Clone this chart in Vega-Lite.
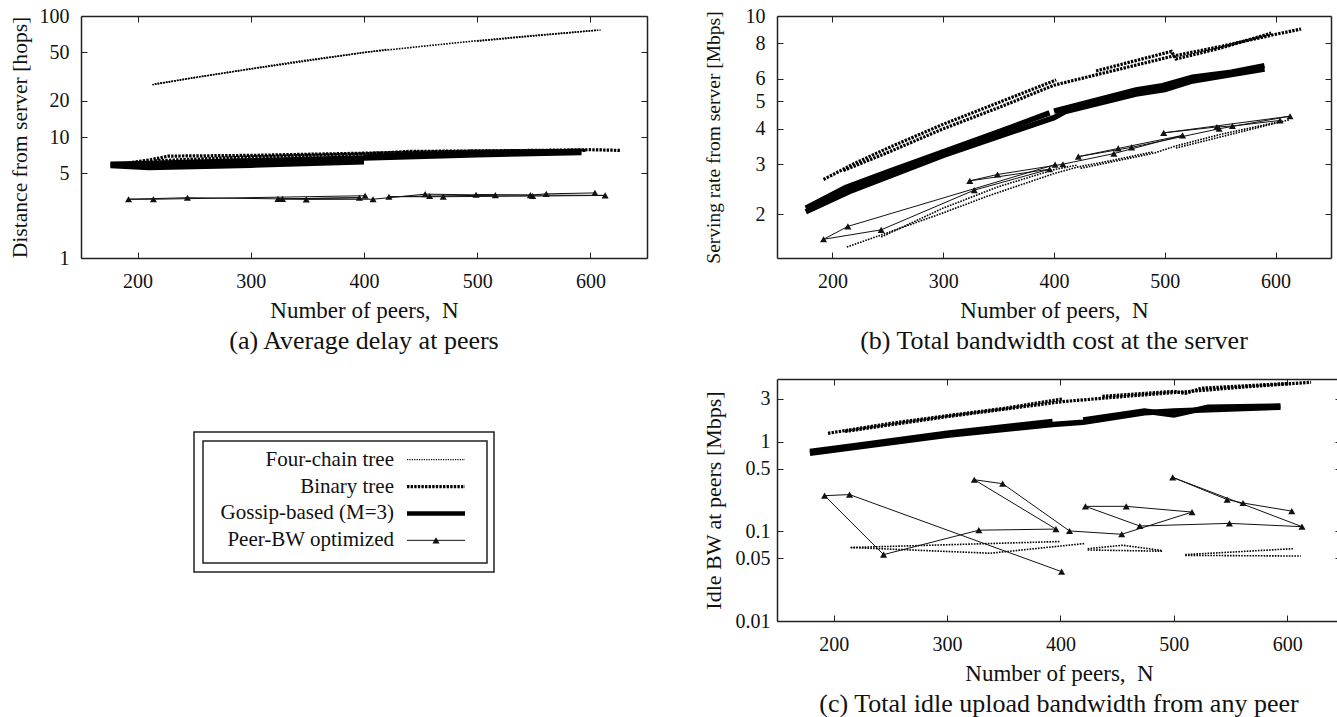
{
"$schema": "https://vega.github.io/schema/vega-lite/v6.json",
"padding": {"left": 8, "top": 6, "right": 0, "bottom": 0},
"autosize": {"type": "pad"},
"background": "white",
"config": {
 "font": "Liberation Serif",
 "view": {"stroke": null},
 "axis": {"labelFont": "Liberation Serif", "titleFont": "Liberation Serif", "labelFontSize": 20, "titleFontSize": 23, "labelColor": "#111", "titleColor": "#111", "titleFontWeight": "normal", "domainColor": "#222", "domainWidth": 1.5, "tickColor": "#222", "tickSize": -6, "tickWidth": 1, "grid": false, "labelFlush": false, "labelOverlap": false},
 "title": {"font": "Liberation Serif", "fontWeight": "normal", "color": "#111", "fontSize": 26},
 "line": {"strokeCap": "butt"}
},
"datasets": {
 "a": [
  {"s":"F","r":1,"N":213,"v":27.0},{"s":"F","r":1,"N":250,"v":31.0},{"s":"F","r":1,"N":300,"v":36.5},{"s":"F","r":1,"N":338,"v":41.0},{"s":"F","r":1,"N":400,"v":50.0},{"s":"F","r":1,"N":450,"v":56.0},{"s":"F","r":1,"N":500,"v":62.5},{"s":"F","r":1,"N":550,"v":69.0},{"s":"F","r":1,"N":609,"v":76.6},
  {"s":"F","r":2,"N":215,"v":27.4},{"s":"F","r":2,"N":338,"v":41.7},{"s":"F","r":2,"N":421,"v":53.0},
  {"s":"F","r":3,"N":500,"v":62.0},{"s":"F","r":3,"N":605,"v":76.2},
  {"s":"B","r":1,"N":192,"v":6.1},{"s":"B","r":1,"N":212,"v":6.5},{"s":"B","r":1,"N":227,"v":6.95},{"s":"B","r":1,"N":300,"v":7.05},{"s":"B","r":1,"N":400,"v":7.35},{"s":"B","r":1,"N":500,"v":7.65},{"s":"B","r":1,"N":600,"v":7.85},{"s":"B","r":1,"N":627,"v":7.75},
  {"s":"B","r":2,"N":215,"v":6.35},{"s":"B","r":2,"N":300,"v":6.85},{"s":"B","r":2,"N":400,"v":7.25},{"s":"B","r":2,"N":440,"v":7.6},{"s":"B","r":2,"N":520,"v":7.7},{"s":"B","r":2,"N":596,"v":7.75},
  {"s":"G","r":1,"N":176,"v":5.95},{"s":"G","r":1,"N":210,"v":6.05},{"s":"G","r":1,"N":300,"v":6.35},{"s":"G","r":1,"N":400,"v":6.7},{"s":"G","r":1,"N":500,"v":7.15},{"s":"G","r":1,"N":592,"v":7.45},
  {"s":"G","r":2,"N":176,"v":5.8},{"s":"G","r":2,"N":210,"v":5.6},{"s":"G","r":2,"N":300,"v":5.85},{"s":"G","r":2,"N":400,"v":6.25},
  {"s":"G","r":3,"N":400,"v":6.8},{"s":"G","r":3,"N":440,"v":7.05},{"s":"G","r":3,"N":500,"v":7.3},{"s":"G","r":3,"N":592,"v":7.6},
  {"s":"P","r":1,"N":401,"v":3.27},{"s":"P","r":1,"N":214,"v":3.06},{"s":"P","r":1,"N":192,"v":3.06},{"s":"P","r":1,"N":244,"v":3.15},{"s":"P","r":1,"N":328,"v":3.08},{"s":"P","r":1,"N":396,"v":3.15},{"s":"P","r":1,"N":324,"v":3.08},{"s":"P","r":1,"N":349,"v":3.05},{"s":"P","r":1,"N":408,"v":3.06},{"s":"P","r":1,"N":454,"v":3.37},{"s":"P","r":1,"N":516,"v":3.31},{"s":"P","r":1,"N":458,"v":3.25},{"s":"P","r":1,"N":422,"v":3.21},{"s":"P","r":1,"N":470,"v":3.21},{"s":"P","r":1,"N":549,"v":3.25},{"s":"P","r":1,"N":613,"v":3.29},{"s":"P","r":1,"N":499,"v":3.33},{"s":"P","r":1,"N":547,"v":3.31},{"s":"P","r":1,"N":561,"v":3.39},{"s":"P","r":1,"N":604,"v":3.45}
 ],
 "b": [
  {"s":"F","r":1,"N":213,"v":1.53},{"s":"F","r":1,"N":250,"v":1.72},{"s":"F","r":1,"N":300,"v":2.02},{"s":"F","r":1,"N":338,"v":2.3},{"s":"F","r":1,"N":400,"v":2.78},{"s":"F","r":1,"N":421,"v":2.93},{"s":"F","r":1,"N":450,"v":3.08},{"s":"F","r":1,"N":490,"v":3.32},
  {"s":"F","r":2,"N":244,"v":1.66},{"s":"F","r":2,"N":300,"v":2.1},{"s":"F","r":2,"N":350,"v":2.5},{"s":"F","r":2,"N":400,"v":2.87},{"s":"F","r":2,"N":421,"v":2.98},
  {"s":"F","r":3,"N":424,"v":2.9},{"s":"F","r":3,"N":490,"v":3.28},{"s":"F","r":3,"N":510,"v":3.48},{"s":"F","r":3,"N":550,"v":3.82},{"s":"F","r":3,"N":605,"v":4.25},
  {"s":"F","r":4,"N":510,"v":3.42},{"s":"F","r":4,"N":612,"v":4.3},
  {"s":"B","r":1,"N":192,"v":2.65},{"s":"B","r":1,"N":220,"v":3.02},{"s":"B","r":1,"N":250,"v":3.42},{"s":"B","r":1,"N":300,"v":4.15},{"s":"B","r":1,"N":350,"v":4.95},{"s":"B","r":1,"N":402,"v":5.95},
  {"s":"B","r":2,"N":210,"v":2.85},{"s":"B","r":2,"N":250,"v":3.3},{"s":"B","r":2,"N":300,"v":4.0},{"s":"B","r":2,"N":350,"v":4.75},{"s":"B","r":2,"N":400,"v":5.7},{"s":"B","r":2,"N":438,"v":6.2},{"s":"B","r":2,"N":470,"v":6.65},{"s":"B","r":2,"N":506,"v":7.2},{"s":"B","r":2,"N":550,"v":7.8},{"s":"B","r":2,"N":596,"v":8.55},{"s":"B","r":2,"N":623,"v":9.0},
  {"s":"B","r":3,"N":438,"v":6.4},{"s":"B","r":3,"N":470,"v":6.9},{"s":"B","r":3,"N":506,"v":7.5},{"s":"B","r":3,"N":510,"v":7.05},{"s":"B","r":3,"N":550,"v":7.7},{"s":"B","r":3,"N":596,"v":8.7},
  {"s":"G","r":1,"N":176,"v":2.1},{"s":"G","r":1,"N":212,"v":2.48},{"s":"G","r":1,"N":250,"v":2.82},{"s":"G","r":1,"N":300,"v":3.32},{"s":"G","r":1,"N":350,"v":3.9},{"s":"G","r":1,"N":396,"v":4.55},
  {"s":"G","r":2,"N":176,"v":2.04},{"s":"G","r":2,"N":215,"v":2.4},{"s":"G","r":2,"N":300,"v":3.22},{"s":"G","r":2,"N":400,"v":4.38},{"s":"G","r":2,"N":410,"v":4.6},{"s":"G","r":2,"N":474,"v":5.3},{"s":"G","r":2,"N":500,"v":5.5},{"s":"G","r":2,"N":525,"v":5.9},{"s":"G","r":2,"N":590,"v":6.5},
  {"s":"G","r":3,"N":400,"v":4.62},{"s":"G","r":3,"N":474,"v":5.48},{"s":"G","r":3,"N":498,"v":5.68},{"s":"G","r":3,"N":525,"v":6.08},{"s":"G","r":3,"N":560,"v":6.33},{"s":"G","r":3,"N":590,"v":6.68},
  {"s":"P","r":1,"N":401,"v":2.99},{"s":"P","r":1,"N":214,"v":1.81},{"s":"P","r":1,"N":192,"v":1.63},{"s":"P","r":1,"N":244,"v":1.76},{"s":"P","r":1,"N":328,"v":2.43},{"s":"P","r":1,"N":396,"v":2.88},{"s":"P","r":1,"N":324,"v":2.62},{"s":"P","r":1,"N":349,"v":2.76},{"s":"P","r":1,"N":408,"v":3.0},{"s":"P","r":1,"N":454,"v":3.27},{"s":"P","r":1,"N":516,"v":3.79},{"s":"P","r":1,"N":458,"v":3.41},{"s":"P","r":1,"N":422,"v":3.19},{"s":"P","r":1,"N":470,"v":3.44},{"s":"P","r":1,"N":549,"v":4.0},{"s":"P","r":1,"N":613,"v":4.43},{"s":"P","r":1,"N":499,"v":3.87},{"s":"P","r":1,"N":547,"v":4.06},{"s":"P","r":1,"N":561,"v":4.09},{"s":"P","r":1,"N":604,"v":4.28}
 ],
 "c": [
  {"s":"F","r":1,"N":215,"v":0.066},{"s":"F","r":1,"N":400,"v":0.077},
  {"s":"F","r":2,"N":215,"v":0.066},{"s":"F","r":2,"N":338,"v":0.057},{"s":"F","r":2,"N":421,"v":0.073},
  {"s":"F","r":3,"N":424,"v":0.062},{"s":"F","r":3,"N":490,"v":0.060},
  {"s":"F","r":4,"N":424,"v":0.064},{"s":"F","r":4,"N":455,"v":0.070},{"s":"F","r":4,"N":490,"v":0.061},
  {"s":"F","r":5,"N":510,"v":0.055},{"s":"F","r":5,"N":605,"v":0.064},
  {"s":"F","r":6,"N":510,"v":0.054},{"s":"F","r":6,"N":612,"v":0.053},
  {"s":"B","r":1,"N":195,"v":1.24},{"s":"B","r":1,"N":250,"v":1.6},{"s":"B","r":1,"N":300,"v":1.95},{"s":"B","r":1,"N":350,"v":2.35},{"s":"B","r":1,"N":402,"v":3.0},
  {"s":"B","r":2,"N":210,"v":1.3},{"s":"B","r":2,"N":300,"v":1.9},{"s":"B","r":2,"N":402,"v":2.8},{"s":"B","r":2,"N":437,"v":3.05},{"s":"B","r":2,"N":470,"v":3.3},{"s":"B","r":2,"N":510,"v":3.6},{"s":"B","r":2,"N":560,"v":4.05},{"s":"B","r":2,"N":621,"v":4.6},
  {"s":"B","r":3,"N":437,"v":3.2},{"s":"B","r":3,"N":500,"v":3.65},{"s":"B","r":3,"N":510,"v":3.45},{"s":"B","r":3,"N":524,"v":3.95},{"s":"B","r":3,"N":600,"v":4.45},
  {"s":"G","r":1,"N":179,"v":0.775},{"s":"G","r":1,"N":223,"v":0.92},{"s":"G","r":1,"N":300,"v":1.24},{"s":"G","r":1,"N":393,"v":1.68},
  {"s":"G","r":2,"N":179,"v":0.74},{"s":"G","r":2,"N":300,"v":1.18},{"s":"G","r":2,"N":393,"v":1.55},{"s":"G","r":2,"N":420,"v":1.65},{"s":"G","r":2,"N":474,"v":2.1},{"s":"G","r":2,"N":500,"v":2.2},{"s":"G","r":2,"N":594,"v":2.42},
  {"s":"G","r":3,"N":420,"v":1.75},{"s":"G","r":3,"N":474,"v":2.2},{"s":"G","r":3,"N":500,"v":1.98},{"s":"G","r":3,"N":530,"v":2.42},{"s":"G","r":3,"N":594,"v":2.5},
  {"s":"P","r":1,"N":401,"v":0.0355},{"s":"P","r":1,"N":214,"v":0.257},{"s":"P","r":1,"N":192,"v":0.25},{"s":"P","r":1,"N":244,"v":0.055},{"s":"P","r":1,"N":328,"v":0.103},{"s":"P","r":1,"N":396,"v":0.106},{"s":"P","r":1,"N":324,"v":0.376},{"s":"P","r":1,"N":349,"v":0.34},{"s":"P","r":1,"N":408,"v":0.101},{"s":"P","r":1,"N":454,"v":0.0927},{"s":"P","r":1,"N":516,"v":0.164},{"s":"P","r":1,"N":458,"v":0.19},{"s":"P","r":1,"N":422,"v":0.19},{"s":"P","r":1,"N":470,"v":0.1146},{"s":"P","r":1,"N":549,"v":0.1227},{"s":"P","r":1,"N":613,"v":0.1127},{"s":"P","r":1,"N":499,"v":0.40},{"s":"P","r":1,"N":547,"v":0.226},{"s":"P","r":1,"N":561,"v":0.207},{"s":"P","r":1,"N":604,"v":0.168}
 ],
 "legend": [
  {"s":"F","label":"Four-chain tree"},
  {"s":"B","label":"Binary tree"},
  {"s":"G","label":"Gossip-based (M=3)"},
  {"s":"P","label":"Peer-BW optimized"}
 ]
},
"columns": 2,
"spacing": {"row": 121, "column": 130},
"bounds": "flush",
"align": "none",
"concat": [
 {
  "width": 566, "height": 242,
  "data": {"name": "a"},
  "title": {"text": "(a) Average delay at peers", "orient": "bottom", "offset": 6},
  "layer": [
   {"transform": [{"filter": "datum.s === 'F'"}],
    "mark": {"type": "line", "color": "#000", "strokeWidth": 1.6, "strokeDash": [1.6, 1.2]},
    "encoding": {
     "x": {"field": "N", "type": "quantitative", "scale": {"domain": [150, 650], "nice": false, "zero": false}, "axis": {"orient": "bottom", "values": [200, 300, 400, 500, 600], "title": "Number of peers,\u00a0 N", "labelPadding": 19, "titlePadding": 8}},
     "y": {"field": "v", "type": "quantitative", "scale": {"type": "log", "domain": [1, 100], "nice": false}, "axis": {"orient": "left", "values": [1, 5, 10, 20, 50, 100], "format": "~g", "title": "Distance from server [hops]", "titleFontSize": 21.6, "labelPadding": 18, "titlePadding": 8}},
     "detail": {"field": "r"}, "order": {"value": null}}},
   {"transform": [{"filter": "datum.s === 'B'"}],
    "mark": {"type": "line", "color": "#000", "strokeWidth": 3.2, "strokeDash": [2.4, 1.2]},
    "encoding": {
     "x": {"field": "N", "type": "quantitative", "scale": {"domain": [150, 650], "nice": false, "zero": false}, "axis": null},
     "y": {"field": "v", "type": "quantitative", "scale": {"type": "log", "domain": [1, 100], "nice": false}, "axis": null},
     "detail": {"field": "r"}, "order": {"value": null}}},
   {"transform": [{"filter": "datum.s === 'G'"}],
    "mark": {"type": "line", "color": "#000", "strokeWidth": 5.5},
    "encoding": {
     "x": {"field": "N", "type": "quantitative", "scale": {"domain": [150, 650], "nice": false, "zero": false}, "axis": null},
     "y": {"field": "v", "type": "quantitative", "scale": {"type": "log", "domain": [1, 100], "nice": false}, "axis": null},
     "detail": {"field": "r"}, "order": {"value": null}}},
   {"transform": [{"filter": "datum.s === 'P'"}],
    "mark": {"type": "line", "color": "#111", "strokeWidth": 1},
    "encoding": {
     "x": {"field": "N", "type": "quantitative", "scale": {"domain": [150, 650], "nice": false, "zero": false}, "axis": null},
     "y": {"field": "v", "type": "quantitative", "scale": {"type": "log", "domain": [1, 100], "nice": false}, "axis": null},
     "detail": {"field": "r"}, "order": {"value": null}}},
   {"transform": [{"filter": "datum.s === 'P'"}],
    "mark": {"type": "point", "shape": "triangle-up", "filled": true, "size": 50, "color": "#111", "opacity": 1},
    "encoding": {
     "x": {"field": "N", "type": "quantitative", "scale": {"domain": [150, 650], "nice": false, "zero": false}, "axis": {"orient": "top", "values": [200, 300, 400, 500, 600], "labels": false, "title": null}},
     "y": {"field": "v", "type": "quantitative", "scale": {"type": "log", "domain": [1, 100], "nice": false}, "axis": {"orient": "right", "values": [1, 5, 10, 20, 50, 100], "labels": false, "title": null}}}}
  ]
 },
 {
  "width": 554, "height": 242,
  "data": {"name": "b"},
  "title": {"text": "(b) Total bandwidth cost at the server", "orient": "bottom", "offset": 6},
  "layer": [
   {"transform": [{"filter": "datum.s === 'F'"}],
    "mark": {"type": "line", "color": "#000", "strokeWidth": 1.6, "strokeDash": [1.6, 1.2]},
    "encoding": {
     "x": {"field": "N", "type": "quantitative", "scale": {"domain": [150, 650], "nice": false, "zero": false}, "axis": {"orient": "bottom", "values": [200, 300, 400, 500, 600], "title": "Number of peers,\u00a0 N", "labelPadding": 19, "titlePadding": 8}},
     "y": {"field": "v", "type": "quantitative", "scale": {"type": "log", "domain": [1.4, 10], "nice": false}, "axis": {"orient": "left", "values": [2, 3, 4, 5, 6, 8, 10], "format": "~g", "title": "Serving rate from server [Mbps]", "titleFontSize": 19.5, "labelPadding": 18, "titlePadding": 22}},
     "detail": {"field": "r"}, "order": {"value": null}}},
   {"transform": [{"filter": "datum.s === 'B'"}],
    "mark": {"type": "line", "color": "#000", "strokeWidth": 3.2, "strokeDash": [2.4, 1.2]},
    "encoding": {
     "x": {"field": "N", "type": "quantitative", "scale": {"domain": [150, 650], "nice": false, "zero": false}, "axis": null},
     "y": {"field": "v", "type": "quantitative", "scale": {"type": "log", "domain": [1.4, 10], "nice": false}, "axis": null},
     "detail": {"field": "r"}, "order": {"value": null}}},
   {"transform": [{"filter": "datum.s === 'G'"}],
    "mark": {"type": "line", "color": "#000", "strokeWidth": 5.5},
    "encoding": {
     "x": {"field": "N", "type": "quantitative", "scale": {"domain": [150, 650], "nice": false, "zero": false}, "axis": null},
     "y": {"field": "v", "type": "quantitative", "scale": {"type": "log", "domain": [1.4, 10], "nice": false}, "axis": null},
     "detail": {"field": "r"}, "order": {"value": null}}},
   {"transform": [{"filter": "datum.s === 'P'"}],
    "mark": {"type": "line", "color": "#111", "strokeWidth": 1},
    "encoding": {
     "x": {"field": "N", "type": "quantitative", "scale": {"domain": [150, 650], "nice": false, "zero": false}, "axis": null},
     "y": {"field": "v", "type": "quantitative", "scale": {"type": "log", "domain": [1.4, 10], "nice": false}, "axis": null},
     "detail": {"field": "r"}, "order": {"value": null}}},
   {"transform": [{"filter": "datum.s === 'P'"}],
    "mark": {"type": "point", "shape": "triangle-up", "filled": true, "size": 50, "color": "#111", "opacity": 1},
    "encoding": {
     "x": {"field": "N", "type": "quantitative", "scale": {"domain": [150, 650], "nice": false, "zero": false}, "axis": {"orient": "top", "values": [200, 300, 400, 500, 600], "labels": false, "title": null}},
     "y": {"field": "v", "type": "quantitative", "scale": {"type": "log", "domain": [1.4, 10], "nice": false}, "axis": {"orient": "right", "values": [2, 3, 4, 5, 6, 8, 10], "labels": false, "title": null}}}}
  ]
 },
 {
  "width": 561, "height": 242,
  "data": {"name": "legend"},
  "layer": [
   {"transform": [{"filter": "datum.s === 'F'"}],
    "mark": {"type": "rect", "filled": false, "color": "#222", "strokeWidth": 1.5},
    "encoding": {
     "x": {"datum": 113, "type": "quantitative", "scale": {"domain": [0, 561], "nice": false, "zero": false}, "axis": null},
     "x2": {"datum": 413},
     "y": {"datum": 53, "type": "quantitative", "scale": {"domain": [0, 242], "nice": false, "zero": false, "reverse": true}, "axis": null},
     "y2": {"datum": 193}}},
   {"transform": [{"filter": "datum.s === 'F'"}],
    "mark": {"type": "rect", "filled": false, "color": "#222", "strokeWidth": 1.5},
    "encoding": {
     "x": {"datum": 122, "type": "quantitative", "scale": {"domain": [0, 561], "nice": false, "zero": false}, "axis": null},
     "x2": {"datum": 406},
     "y": {"datum": 62, "type": "quantitative", "scale": {"domain": [0, 242], "nice": false, "zero": false, "reverse": true}, "axis": null},
     "y2": {"datum": 184}}},
   {"mark": {"type": "text", "align": "right", "baseline": "middle", "font": "Liberation Serif", "fontSize": 21, "color": "#111"},
    "encoding": {
     "x": {"datum": 313, "type": "quantitative", "scale": {"domain": [0, 561], "nice": false, "zero": false}, "axis": null},
     "y": {"field": "s", "type": "ordinal", "scale": {"type": "point", "domain": ["d1", "d2", "d3", "F", "B", "G", "P", "d4", "d5", "d6"], "padding": 0}, "axis": null},
     "text": {"field": "label"}}},
   {"transform": [{"filter": "datum.s === 'F'"}],
    "mark": {"type": "rule", "color": "#000", "strokeWidth": 1.2, "strokeDash": [1.2, 1.2]},
    "encoding": {
     "x": {"datum": 326, "type": "quantitative", "scale": {"domain": [0, 561], "nice": false, "zero": false}, "axis": null},
     "x2": {"datum": 384},
     "y": {"field": "s", "type": "ordinal", "scale": {"type": "point", "domain": ["d1", "d2", "d3", "F", "B", "G", "P", "d4", "d5", "d6"], "padding": 0}, "axis": null}}},
   {"transform": [{"filter": "datum.s === 'B'"}],
    "mark": {"type": "rule", "color": "#000", "strokeWidth": 3.2, "strokeDash": [2.4, 1.2]},
    "encoding": {
     "x": {"datum": 326, "type": "quantitative", "scale": {"domain": [0, 561], "nice": false, "zero": false}, "axis": null},
     "x2": {"datum": 384},
     "y": {"field": "s", "type": "ordinal", "scale": {"type": "point", "domain": ["d1", "d2", "d3", "F", "B", "G", "P", "d4", "d5", "d6"], "padding": 0}, "axis": null}}},
   {"transform": [{"filter": "datum.s === 'G'"}],
    "mark": {"type": "rule", "color": "#000", "strokeWidth": 4.5},
    "encoding": {
     "x": {"datum": 326, "type": "quantitative", "scale": {"domain": [0, 561], "nice": false, "zero": false}, "axis": null},
     "x2": {"datum": 384},
     "y": {"field": "s", "type": "ordinal", "scale": {"type": "point", "domain": ["d1", "d2", "d3", "F", "B", "G", "P", "d4", "d5", "d6"], "padding": 0}, "axis": null}}},
   {"transform": [{"filter": "datum.s === 'P'"}],
    "mark": {"type": "rule", "color": "#111", "strokeWidth": 1},
    "encoding": {
     "x": {"datum": 326, "type": "quantitative", "scale": {"domain": [0, 561], "nice": false, "zero": false}, "axis": null},
     "x2": {"datum": 384},
     "y": {"field": "s", "type": "ordinal", "scale": {"type": "point", "domain": ["d1", "d2", "d3", "F", "B", "G", "P", "d4", "d5", "d6"], "padding": 0}, "axis": null}}},
   {"transform": [{"filter": "datum.s === 'P'"}],
    "mark": {"type": "point", "shape": "triangle-up", "filled": true, "size": 50, "color": "#111", "opacity": 1},
    "encoding": {
     "x": {"datum": 355, "type": "quantitative", "scale": {"domain": [0, 561], "nice": false, "zero": false}, "axis": null},
     "y": {"field": "s", "type": "ordinal", "scale": {"type": "point", "domain": ["d1", "d2", "d3", "F", "B", "G", "P", "d4", "d5", "d6"], "padding": 0}, "axis": null}}}
  ],
  "resolve": {"scale": {"y": "independent"}}
 },
 {
  "width": 564, "height": 242,
  "data": {"name": "c"},
  "title": {"text": "(c) Total idle upload bandwidth from any peer", "orient": "bottom", "offset": 6},
  "layer": [
   {"transform": [{"filter": "datum.s === 'F'"}],
    "mark": {"type": "line", "color": "#000", "strokeWidth": 1.6, "strokeDash": [1.6, 1.2]},
    "encoding": {
     "x": {"field": "N", "type": "quantitative", "scale": {"domain": [150, 647.4], "nice": false, "zero": false}, "axis": {"orient": "bottom", "values": [200, 300, 400, 500, 600], "title": "Number of peers,\u00a0 N", "labelPadding": 19, "titlePadding": 8}},
     "y": {"field": "v", "type": "quantitative", "scale": {"type": "log", "domain": [0.01, 5], "nice": false}, "axis": {"orient": "left", "values": [0.01, 0.05, 0.1, 0.5, 1, 3], "format": "~g", "title": "Idle BW at peers [Mbps]", "titleFontSize": 22, "labelPadding": 13, "titlePadding": 10}},
     "detail": {"field": "r"}, "order": {"value": null}}},
   {"transform": [{"filter": "datum.s === 'B'"}],
    "mark": {"type": "line", "color": "#000", "strokeWidth": 3.2, "strokeDash": [2.4, 1.2]},
    "encoding": {
     "x": {"field": "N", "type": "quantitative", "scale": {"domain": [150, 647.4], "nice": false, "zero": false}, "axis": null},
     "y": {"field": "v", "type": "quantitative", "scale": {"type": "log", "domain": [0.01, 5], "nice": false}, "axis": null},
     "detail": {"field": "r"}, "order": {"value": null}}},
   {"transform": [{"filter": "datum.s === 'G'"}],
    "mark": {"type": "line", "color": "#000", "strokeWidth": 5.5},
    "encoding": {
     "x": {"field": "N", "type": "quantitative", "scale": {"domain": [150, 647.4], "nice": false, "zero": false}, "axis": null},
     "y": {"field": "v", "type": "quantitative", "scale": {"type": "log", "domain": [0.01, 5], "nice": false}, "axis": null},
     "detail": {"field": "r"}, "order": {"value": null}}},
   {"transform": [{"filter": "datum.s === 'P'"}],
    "mark": {"type": "line", "color": "#111", "strokeWidth": 1},
    "encoding": {
     "x": {"field": "N", "type": "quantitative", "scale": {"domain": [150, 647.4], "nice": false, "zero": false}, "axis": null},
     "y": {"field": "v", "type": "quantitative", "scale": {"type": "log", "domain": [0.01, 5], "nice": false}, "axis": null},
     "detail": {"field": "r"}, "order": {"value": null}}},
   {"transform": [{"filter": "datum.s === 'P'"}],
    "mark": {"type": "point", "shape": "triangle-up", "filled": true, "size": 50, "color": "#111", "opacity": 1},
    "encoding": {
     "x": {"field": "N", "type": "quantitative", "scale": {"domain": [150, 647.4], "nice": false, "zero": false}, "axis": {"orient": "top", "values": [200, 300, 400, 500, 600], "labels": false, "title": null}},
     "y": {"field": "v", "type": "quantitative", "scale": {"type": "log", "domain": [0.01, 5], "nice": false}, "axis": {"orient": "right", "values": [0.01, 0.05, 0.1, 0.5, 1, 3], "labels": false, "title": null, "domain": false}}}}
  ]
 }
]
}
